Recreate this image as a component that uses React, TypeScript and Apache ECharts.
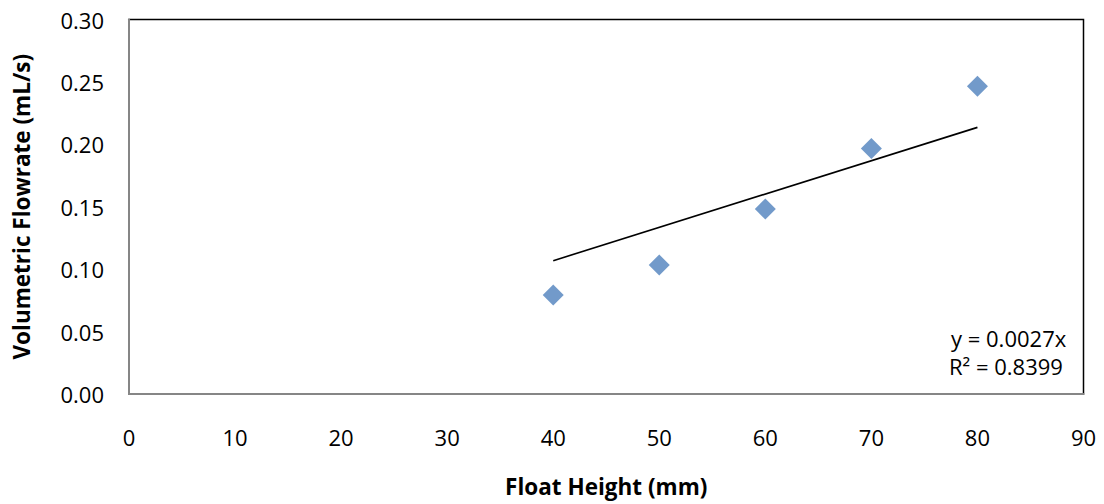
import React, { useEffect, useRef } from "react";
import * as echarts from "echarts";

const FLOAT_HEIGHT = [40, 50, 60, 70, 80];
const FLOWRATE = [0.0793, 0.1034, 0.1482, 0.1966, 0.2466];
const EQUATION_TEXT = "y = 0.0027x";
const R2_TEXT = "R² = 0.8399";
const X_NAME = "Float Height (mm)";
const Y_NAME = "Volumetric Flowrate (mL/s)";

const FONT = "'Open Sans', sans-serif";

export default function App() {
  const ref = useRef<HTMLDivElement>(null);
  useEffect(() => {
    if (!ref.current) return;
    const chart = echarts.init(ref.current, undefined, { renderer: "svg" });
    // least squares slope through origin
    let sxy = 0;
    let sxx = 0;
    FLOAT_HEIGHT.forEach((x, i) => {
      sxy += x * FLOWRATE[i];
      sxx += x * x;
    });
    const slope = sxy / sxx;
    const xMin = Math.min(...FLOAT_HEIGHT);
    const xMax = Math.max(...FLOAT_HEIGHT);
    const trend = [
      [xMin, slope * xMin],
      [xMax, slope * xMax],
    ];
    chart.setOption({
      animation: false,
      backgroundColor: "#fff",
      grid: {
        left: 129,
        right: 20.5,
        top: 19.5,
        bottom: 110,
        show: true,
        borderColor: "#000",
        borderWidth: 1.5,
        backgroundColor: "transparent",
      },
      xAxis: {
        type: "value",
        min: 0,
        max: 90,
        interval: 10,
        name: X_NAME,
        nameLocation: "middle",
        nameGap: 81,
        nameTextStyle: { fontFamily: FONT, fontSize: 22.5, fontWeight: "bold", color: "#000" },
        axisLine: { show: true, onZero: false, lineStyle: { color: "#868686", width: 2 } },
        axisTick: { show: false },
        splitLine: { show: false },
        axisLabel: { fontFamily: FONT, fontSize: 22, color: "#000", margin: 32 },
      },
      yAxis: {
        type: "value",
        min: 0,
        max: 0.3,
        interval: 0.05,
        name: Y_NAME,
        nameLocation: "middle",
        nameGap: 96,
        nameTextStyle: { fontFamily: FONT, fontSize: 22.5, fontWeight: "bold", color: "#000" },
        axisLine: { show: true, onZero: false, lineStyle: { color: "#868686", width: 2 } },
        axisTick: { show: false },
        splitLine: { show: false },
        axisLabel: {
          fontFamily: FONT,
          fontSize: 22,
          color: "#000",
          margin: 25,
          formatter: (v: number) => v.toFixed(2),
        },
      },
      series: [
        {
          type: "line",
          data: trend,
          symbol: "none",
          lineStyle: { color: "#000", width: 1.6 },
          z: 2,
        },
        {
          type: "scatter",
          data: FLOAT_HEIGHT.map((x, i) => [x, FLOWRATE[i]]),
          symbol: "diamond",
          symbolSize: [21, 21],
          itemStyle: { color: "#4F81BD" },
          z: 3,
        },
      ],
      graphic: [
        {
          type: "text",
          left: 951,
          top: 327,
          style: { text: EQUATION_TEXT, fontFamily: FONT, fontSize: 22, fill: "#000" },
        },
        {
          type: "text",
          left: 949,
          top: 355,
          style: { text: R2_TEXT, fontFamily: FONT, fontSize: 22, fill: "#000" },
        },
      ],
    });
    return () => chart.dispose();
  }, []);
  return (
    <div
      ref={ref}
      style={{ position: "fixed", left: 0, top: 0, width: 1104, height: 504 }}
    />
  );
}
